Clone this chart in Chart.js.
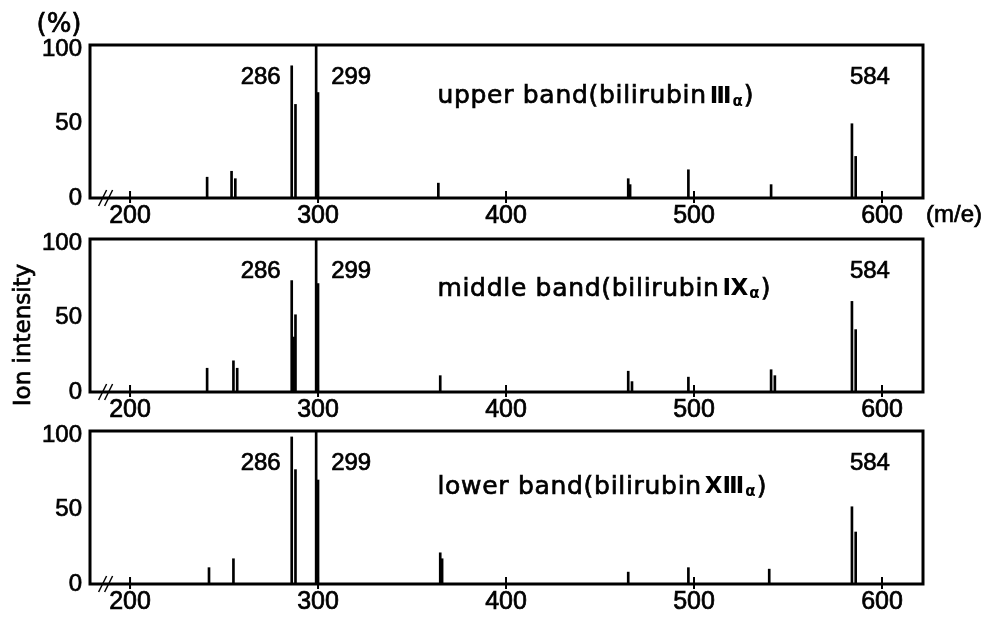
<!DOCTYPE html>
<html>
<head>
<meta charset="UTF-8">
<title>Ion intensity</title>
<script src="https://cdn.jsdelivr.net/npm/chart.js"></script>
<style>
  body { margin: 0; background: #fff; }
  .panel { position: absolute; left: 0; width: 991px; height: 232px; }
</style>
</head>
<body>
<div class="panel" style="top:0"><canvas id="c0"></canvas></div>
<div class="panel" style="top:194px"><canvas id="c1"></canvas></div>
<div class="panel" style="top:386px"><canvas id="c2"></canvas></div>
<script>
// axis ticks and peak labels
const xTicks = [200, 300, 400, 500, 600];
const yTicks = [0, 50, 100];
const peakLabels = [286, 299, 584];

// upper band (bilirubin IIIα)
const upperMz = [241, 254, 256, 286, 288, 299, 300, 364, 465, 466, 497, 541, 584, 586];
const upperInt = [14, 18, 13, 89, 63, 103, 71, 10, 13, 9, 19, 9, 50, 28];

// middle band (bilirubin IXα)
const middleMz = [241, 255, 257, 286, 287, 288, 299, 300, 365, 465, 467, 497, 541, 543, 584, 586];
const middleInt = [16, 21, 16, 75, 37, 52, 103, 73, 11, 14, 7, 10, 15, 11, 61, 42];

// lower band (bilirubin XIIIα)
const lowerMz = [242, 255, 286, 288, 299, 300, 365, 366, 465, 497, 540, 584, 586];
const lowerInt = [11, 17, 99, 77, 103, 70, 21, 17, 8, 11, 10, 52, 35];

const FONT = '"DejaVu Sans", sans-serif';
const NUM = '"Liberation Sans", Arial, sans-serif';

const panels = [
  { id: "c0", mz: upperMz, val: upperInt, band: "upper band(bilirubin", roman: "Ⅲ", bandY: 68 },
  { id: "c1", mz: middleMz, val: middleInt, band: "middle band(bilirubin", roman: "Ⅸ", bandY: 69 },
  { id: "c2", mz: lowerMz, val: lowerInt, band: "lower band(bilirubin", roman: "XⅢ", bandY: 65 }
];

// filled + lightly stroked text, the scan is fairly heavy
function text(ctx, s, x, y) {
  ctx.fillText(s, x, y);
  ctx.strokeText(s, x, y);
}

// frame, inner ticks, break mark and labels
const framePlugin = {
  id: "frame",
  afterDatasetsDraw(chart, args, opts) {
    const { ctx, chartArea: a, scales: { x, y } } = chart;
    ctx.save();
    ctx.strokeStyle = "#000";
    ctx.fillStyle = "#000";
    ctx.lineWidth = 3;
    ctx.strokeRect(a.left, a.top, a.right - a.left, a.bottom - a.top);

    ctx.lineWidth = 2;
    xTicks.forEach((v) => {
      const px = x.getPixelForValue(v);
      ctx.beginPath();
      ctx.moveTo(px, a.bottom - 7);
      ctx.lineTo(px, a.bottom + 5);
      ctx.stroke();
    });

    const bx = x.getPixelForValue(187);
    ctx.lineWidth = 1.5;
    [-3, 3].forEach((d) => {
      ctx.beginPath();
      ctx.moveTo(bx + d - 4, a.bottom + 8);
      ctx.lineTo(bx + d + 4, a.bottom - 8);
      ctx.stroke();
    });

    ctx.lineWidth = 0.7;
    ctx.font = "24px " + NUM;
    ctx.textBaseline = "middle";
    const ly = y.getPixelForValue(81.5);
    ctx.textAlign = "right";
    text(ctx, String(peakLabels[0]), x.getPixelForValue(peakLabels[0]) - 11, ly);
    ctx.textAlign = "left";
    text(ctx, String(peakLabels[1]), x.getPixelForValue(peakLabels[1]) + 15, ly);
    ctx.textAlign = "center";
    text(ctx, String(peakLabels[2]), x.getPixelForValue(peakLabels[2]) + 18, ly);

    // band label
    const p = opts.panel;
    let bxl = x.getPixelForValue(363.5);
    const byl = y.getPixelForValue(p.bandY);
    ctx.textAlign = "left";
    ctx.letterSpacing = "0.7px";
    ctx.font = "25px " + FONT;
    text(ctx, p.band, bxl, byl);
    bxl += ctx.measureText(p.band).width + 3;
    ctx.font = "bold 23px " + FONT;
    ctx.letterSpacing = "0px";
    ctx.fillText(p.roman, bxl, byl);
    bxl += ctx.measureText(p.roman).width + 1;
    ctx.font = "bold 15px " + FONT;
    ctx.fillText("α", bxl, byl + 5);
    bxl += ctx.measureText("α").width + 1;
    ctx.font = "25px " + FONT;
    text(ctx, ")", bxl, byl);

    if (opts.first) {
      ctx.textAlign = "center";
      ctx.font = "26px " + FONT;
      text(ctx, "(%)", 59, 25);
      ctx.textAlign = "left";
      ctx.font = "24px " + NUM;
      text(ctx, "(m/e)", x.getPixelForValue(600) + 44, a.bottom + 17);
    }
    if (opts.middle) {
      ctx.translate(24, 141);
      ctx.rotate(-Math.PI / 2);
      ctx.textAlign = "center";
      ctx.font = "23px " + FONT;
      text(ctx, "Ion intensity", 0, 0);
    }
    ctx.restore();
  }
};

panels.forEach((p, i) => {
  new Chart(document.getElementById(p.id), {
    type: "bar",
    data: {
      datasets: [{
        data: p.mz.map((m, k) => ({ x: m, y: p.val[k] })),
        backgroundColor: "#000",
        barThickness: 2
      }]
    },
    plugins: [framePlugin],
    options: {
      responsive: true,
      maintainAspectRatio: false,
      animation: false,
      layout: { padding: { top: 45, right: 68, left: 0, bottom: 0 } },
      plugins: {
        legend: { display: false },
        tooltip: { enabled: false },
        frame: { panel: p, first: i === 0, middle: i === 1 }
      },
      scales: {
        x: {
          type: "linear",
          min: 178.7,
          max: 621.8,
          offset: false,
          grid: { display: false, drawTicks: false },
          border: { display: false },
          afterBuildTicks: (s) => { s.ticks = xTicks.map((v) => ({ value: v })); },
          afterFit: (s) => { s.height = 34; },
          ticks: {
            color: "#000", padding: 3, maxRotation: 0,
            textStrokeColor: "#000", textStrokeWidth: 0.7,
            font: { family: NUM, size: 25 }
          }
        },
        y: {
          min: 0,
          max: 103,
          grid: { display: false, drawTicks: false },
          border: { display: false },
          afterBuildTicks: (s) => { s.ticks = yTicks.map((v) => ({ value: v })); },
          afterFit: (s) => { s.width = 90; },
          ticks: {
            color: "#000", padding: 8,
            textStrokeColor: "#000", textStrokeWidth: 0.7,
            font: { family: NUM, size: 24 }
          }
        }
      }
    }
  });
});
</script>
</body>
</html>
